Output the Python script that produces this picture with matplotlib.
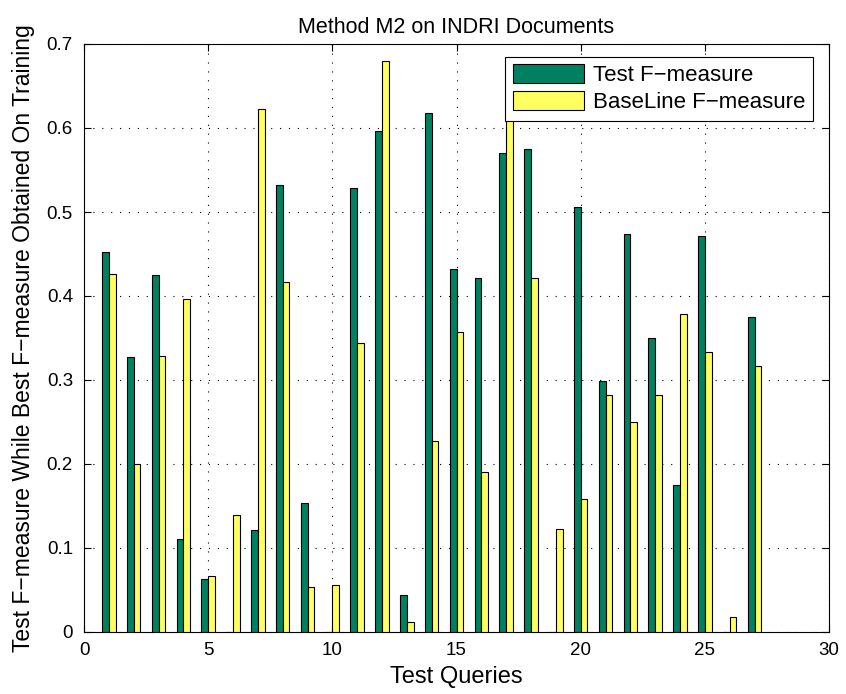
import matplotlib.pyplot as plt
import numpy as np
from matplotlib import rcParams

rcParams['font.family'] = ['Liberation Sans', 'DejaVu Sans']

queries = np.arange(1, 28)
test_f = [0.452, 0.327, 0.425, 0.111, 0.063, 0.0, 0.122, 0.532, 0.154, 0.0,
          0.529, 0.597, 0.044, 0.618, 0.432, 0.421, 0.570, 0.575, 0.0, 0.506,
          0.299, 0.474, 0.350, 0.175, 0.471, 0.0, 0.375]
baseline_f = [0.426, 0.200, 0.328, 0.396, 0.067, 0.139, 0.623, 0.417, 0.054, 0.056,
              0.344, 0.680, 0.012, 0.227, 0.357, 0.191, 0.650, 0.422, 0.123, 0.158,
              0.282, 0.250, 0.282, 0.379, 0.333, 0.018, 0.317]

fig = plt.figure(figsize=(8.46, 6.94), dpi=100)
ax = fig.add_axes([84 / 846, 62 / 694, 745 / 846, 588 / 694])

width = 0.27
ax.bar(queries - width / 2, test_f, width=width, color='#008060',
       edgecolor='black', linewidth=0.8, label='Test F\u2212measure', zorder=3)
ax.bar(queries + width / 2, baseline_f, width=width, color='#ffff60',
       edgecolor='black', linewidth=0.8, label='BaseLine F\u2212measure', zorder=3)

ax.set_xlim(0, 30)
ax.set_ylim(0, 0.7)
ax.set_xticks(np.arange(0, 31, 5))
ax.set_yticks(np.arange(0, 0.71, 0.1))
ax.set_yticklabels(['0', '0.1', '0.2', '0.3', '0.4', '0.5', '0.6', '0.7'])
ax.tick_params(direction='in', top=True, right=True, labelsize=13.5, length=5)
ax.tick_params(axis='x', pad=7)
ax.tick_params(axis='y', pad=8)
ax.grid(True, color='black', linestyle=(0, (1, 7)), linewidth=0.8, zorder=0)

ax.set_title('Method M2 on INDRI Documents', fontsize=15.5, pad=8)
ax.set_xlabel('Test Queries', fontsize=17)
ax.set_ylabel('Test F\u2212measure While Best F\u2212measure Obtained On Training',
              fontsize=16.5)
ax.xaxis.set_label_coords(0.5, -0.057)
ax.yaxis.set_label_coords(-0.066, 0.5)

leg = ax.legend(loc='upper right', bbox_to_anchor=(0.9785, 0.9784), fontsize=16,
                handlelength=3.2, handleheight=0.9, handletextpad=0.4,
                fancybox=False, framealpha=1, edgecolor='black',
                borderaxespad=0, borderpad=0.35, labelspacing=0.22)
leg.get_frame().set_linewidth(0.8)

for s in ax.spines.values():
    s.set_linewidth(0.8)

fig.savefig('out.png', dpi=100)
